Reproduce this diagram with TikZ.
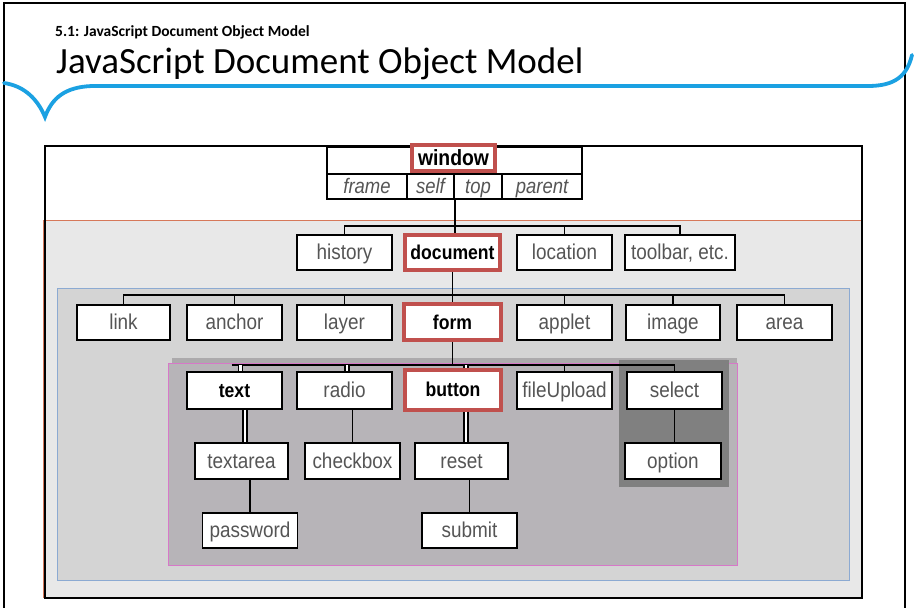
\documentclass[tikz,border=0pt]{standalone}
\usepackage{fontspec}
\setmainfont{Carlito}
\newfontfamily\boxfont[FakeStretch=0.88]{Liberation Sans}
\definecolor{swoosh}{RGB}{27,161,226}
\definecolor{redf}{RGB}{192,80,77}
\definecolor{orangef}{RGB}{214,120,90}
\definecolor{bluef}{RGB}{140,170,210}
\definecolor{pinkf}{RGB}{215,120,200}
\definecolor{lbg}{RGB}{232,232,232}
\definecolor{mbg}{RGB}{212,212,212}
\definecolor{dbg}{RGB}{183,180,184}
\definecolor{stripbg}{RGB}{172,170,172}
\definecolor{sbg}{RGB}{128,128,128}
\definecolor{lbl}{RGB}{85,85,85}
\begin{document}
\begin{tikzpicture}[x=1pt,y=-1pt,
 box/.style={draw=black, line width=1.8pt, fill=white, minimum height=35pt, minimum width=95pt, inner sep=0pt, text height=16pt, text depth=2pt, text=lbl, font=\boxfont\fontsize{21.5}{24}\selectfont},
 bbox/.style={box, text=black, font=\boxfont\bfseries\fontsize{20}{24}\selectfont},
 rbox/.style={bbox, draw=redf, line width=4pt},
 cell/.style={draw=black, line width=1.8pt, fill=white, inner sep=0pt, minimum height=25pt, text height=15pt, text depth=1pt, text=lbl, font=\boxfont\itshape\fontsize{21}{24}\selectfont},
 conn/.style={line width=1.8pt},
 dconn/.style={double=white, double distance=2.5pt, line width=1.3pt},
 area/.style={line width=0.9pt},
]
\useasboundingbox (0,0) rectangle (914,608);
\fill[white] (0,0) rectangle (914,608);
% slide frame
\draw[line width=2.5pt] (4,612) -- (4,3) -- (905,3) -- (905,612);
% swoosh
\draw[swoosh, line width=3.8pt, line cap=round] (4,83) .. controls (25,86) and (38,100) .. (45,117)
  .. controls (52,98) and (65,87) .. (92,86) -- (868,86) .. controls (895,86) and (907,76) .. (912,55);
% titles
\node[anchor=base west, inner sep=0pt, font=\bfseries\fontsize{15.5}{18}\selectfont] (sub) at (55,36) {5.1: JavaScript Document Object Model};
\node[anchor=base west, inner sep=0pt, font=\fontsize{37}{42}\selectfont] (title) at (56,73) {JavaScript Document Object Model};
% nested areas
\draw[area, draw=orangef, fill=lbg] (43,220) rectangle (862,597);
\draw[line width=1.8pt] (45,146) rectangle (862,598);
\draw[area, draw=bluef, fill=mbg] (57,288) rectangle (849,580);
\fill[stripbg] (172,358) rectangle (737,363);
\draw[area, draw=pinkf, fill=dbg] (168,363) rectangle (737,565);
\fill[sbg] (619,360) rectangle (729,487);
% window
\node[draw=black, line width=1.8pt, fill=white, minimum width=255pt, minimum height=27pt, inner sep=0pt] (winbox) at (454.5,160.5) {};
\node[cell, minimum width=80pt] (frame) at (367,186.5) {frame};
\node[cell, minimum width=47pt] (self) at (430.5,186.5) {self};
\node[cell, minimum width=48pt] (top) at (478,186.5) {top};
\node[cell, minimum width=80pt] (parent) at (542,186.5) {parent};
\node[rbox, minimum width=83pt, minimum height=26pt, text height=15pt, text depth=1pt, font=\boxfont\bfseries\fontsize{22}{24}\selectfont] (window) at (453.5,158) {window};
% row 2
\node[box] (history) at (344.5,252.5) {history};
\node[rbox] (document) at (452.5,252.5) {document};
\node[box] (location) at (564.5,252.5) {location};
\node[box, minimum width=110pt] (toolbar) at (680,252.5) {toolbar, etc.};
% row 3
\node[box, minimum width=93pt] (link) at (123.5,322.5) {link};
\node[box] (anchor) at (234.5,322.5) {anchor};
\node[box] (layer) at (344.5,322.5) {layer};
\node[rbox, minimum width=97pt, minimum height=36pt] (form) at (452.5,322) {form};
\node[box] (applet) at (564.5,322.5) {applet};
\node[box, minimum width=94pt] (image) at (673,322.5) {image};
\node[box] (areanode) at (784.5,322.5) {area};
% row 4
\node[bbox, minimum height=37pt] (text) at (234.5,390.5) {text};
\node[box, minimum height=37pt] (radio) at (344.5,390.5) {radio};
\node[rbox, minimum width=96pt, minimum height=40pt] (button) at (453,389.5) {button};
\node[box, minimum height=37pt] (fileupload) at (564.5,390.5) {fileUpload};
\node[box, minimum height=37pt] (select) at (674.5,390.5) {select};
% row 5
\node[box, minimum width=93pt, minimum height=36pt] (textarea) at (241.5,461) {textarea};
\node[box, minimum height=36pt] (checkbox) at (352.5,461) {checkbox};
\node[box, minimum width=93pt, minimum height=36pt] (reset) at (461.5,461) {reset};
\node[box, minimum width=96pt, minimum height=36pt] (option) at (673,461) {option};
% row 6
\node[box] (password) at (250,530.5) {password};
\node[box] (submit) at (469.5,530.5) {submit};
% bars
\coordinate (b2) at (0,226);
\coordinate (b3) at (0,295);
\coordinate (b4) at (0,365);
% connectors
\draw[conn] (self.south east) -- (self.south east |- document.north);
\draw[conn] (history.north) |- (b2 -| toolbar.north) -- (toolbar.north);
\draw[conn] (location.north) -- (location.north |- b2);
\draw[conn] (document.south) -- (form.north);
\draw[conn] (link.north) |- (b3 -| areanode.north) -- (areanode.north);
\draw[conn] (anchor.north) -- (anchor.north |- b3);
\draw[conn] (layer.north) -- (layer.north |- b3);
\draw[conn] (applet.north) -- (applet.north |- b3);
\draw[conn] (image.north) -- (image.north |- b3);
\draw[conn] (form.south) -- (form.south |- b4);
\draw[conn] ([xshift=-3pt]text.north |- b4) -- (b4 -| select.north) -- (select.north);
\draw[dconn] ([xshift=6pt]text.north |- b4) -- ([xshift=6pt]text.north);
\draw[dconn] ([xshift=2.5pt]radio.north |- b4) -- ([xshift=2.5pt]radio.north);
\draw[dconn] ([xshift=13pt]button.north |- b4) -- ([xshift=13pt]button.north);
\draw[conn] (fileupload.north) -- (fileupload.north |- b4);
\draw[dconn] ([xshift=10.5pt]text.south) -- ([xshift=3.5pt]textarea.north);
\draw[conn] (radio.south -| checkbox.north) -- (checkbox.north);
\draw[dconn] ([xshift=13pt]button.south) -- ([xshift=4.5pt]reset.north);
\draw[conn] (select.south) -- (select.south |- option.north);
\draw[conn] (textarea.south -| password.north) -- (password.north);
\draw[conn] (reset.south -| submit.north) -- (submit.north);
\end{tikzpicture}
\end{document}
